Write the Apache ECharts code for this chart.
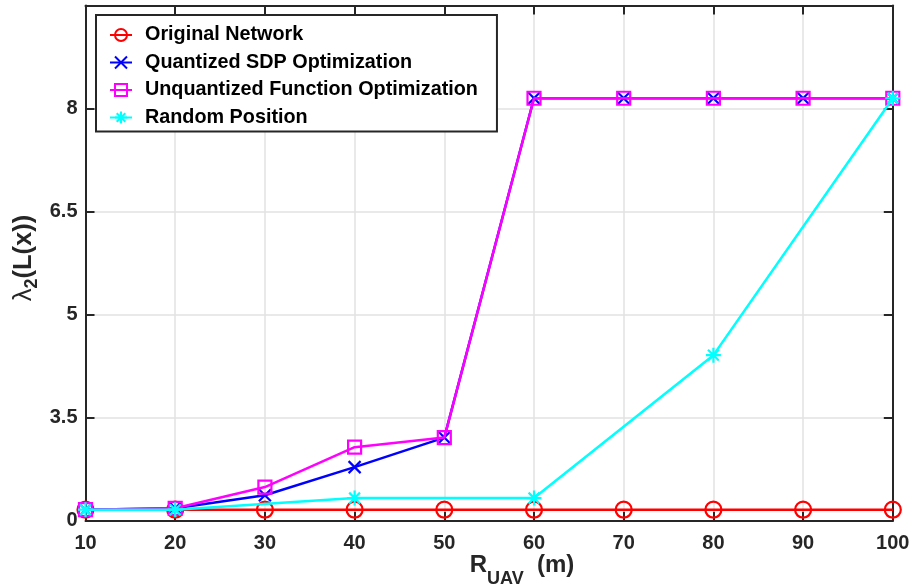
<!DOCTYPE html>
<html>
<head>
<meta charset="utf-8">
<script src="https://cdn.jsdelivr.net/npm/echarts@6/dist/echarts.min.js"></script>
<style>
  html, body { margin: 0; padding: 0; background: #ffffff; }
  #chart { width: 913px; height: 588px; }
</style>
</head>
<body>
<div id="chart"></div>
<script>
// UAV communication radius (m)
const xValues = [10, 20, 30, 40, 50, 60, 70, 80, 90, 100];

// Algebraic connectivity per strategy (axis units)
const originalNetwork = [2.16, 2.16, 2.16, 2.16, 2.16, 2.16, 2.16, 2.16, 2.16, 2.16];
const quantizedSDP = [2.16, 2.18, 2.37, 2.78, 3.21, 8.15, 8.15, 8.15, 8.15, 8.15];
const unquantizedFunction = [2.16, 2.18, 2.49, 3.07, 3.21, 8.15, 8.15, 8.15, 8.15, 8.15];

// Random placement was only evaluated at a subset of radii
const randomX = [10, 20, 40, 60, 80, 100];
const randomPosition = [2.16, 2.16, 2.33, 2.33, 4.41, 8.15];

// Y tick positions and the labels printed at them
const yTickValues = [2, 3.5, 5, 6.5, 8];
const yTickLabels = ['0', '3.5', '5', '6.5', '8'];

const seriesNames = [
  'Original Network',
  'Quantized SDP Optimization',
  'Unquantized Function Optimization',
  'Random Position'
];

const FONT = 'Liberation Sans, Arial, Helvetica, sans-serif';
const AXIS_COLOR = '#262626';
const GRID_COLOR = '#e2e2e2';

const pairs = (xs, ys) => xs.map((x, i) => [x, ys[i]]);

const crossPath = 'path://M0,0L10,10M10,0L0,10';
const starPath = 'path://M5,0L5,10M0,5L10,5M1.4,1.4L8.6,8.6M8.6,1.4L1.4,8.6';

function lineSeries(name, data, color, symbol, size, z) {
  return {
    type: 'line',
    name: name,
    data: data,
    symbol: symbol,
    symbolSize: size,
    showAllSymbol: true,
    clip: false,
    z: z,
    lineStyle: { color: color, width: 2.5 },
    itemStyle: { color: 'rgba(255,255,255,0)', borderColor: color, borderWidth: 2.2 },
    emphasis: { disabled: true }
  };
}

const baseAxis = {
  axisLine: { show: true, onZero: false, lineStyle: { color: AXIS_COLOR, width: 2 } },
  axisTick: { show: true, inside: true, length: 9, lineStyle: { color: AXIS_COLOR, width: 2 } }
};

const option = {
  animation: false,
  backgroundColor: '#ffffff',
  grid: { left: 85.5, right: 20.2, top: 5.5, bottom: 67.3, containLabel: false },
  xAxis: [
    Object.assign({}, baseAxis, {
      type: 'value', position: 'bottom', min: 10, max: 100, interval: 10,
      axisLabel: { color: AXIS_COLOR, fontSize: 20, fontWeight: 'bold', fontFamily: FONT, margin: 13 },
      splitLine: { show: true, lineStyle: { color: GRID_COLOR, width: 1.5 } }
    }),
    Object.assign({}, baseAxis, {
      type: 'value', position: 'top', min: 10, max: 100, interval: 10,
      axisLabel: { show: false }, splitLine: { show: false }
    })
  ],
  yAxis: [
    Object.assign({}, baseAxis, {
      type: 'value', position: 'left', min: 2, max: 9.5, interval: 1.5,
      axisLabel: {
        color: AXIS_COLOR, fontSize: 20, fontWeight: 'bold', fontFamily: FONT, margin: 8,
        formatter: function (v) {
          const i = yTickValues.findIndex(t => Math.abs(t - v) < 1e-6);
          return i >= 0 ? yTickLabels[i] : '';
        }
      },
      splitLine: { show: true, lineStyle: { color: GRID_COLOR, width: 1.5 } }
    }),
    Object.assign({}, baseAxis, {
      type: 'value', position: 'right', min: 2, max: 9.5, interval: 1.5,
      axisLabel: { show: false }, splitLine: { show: false }
    })
  ],
  legend: {
    orient: 'vertical',
    left: 96,
    top: 15,
    data: seriesNames,
    backgroundColor: '#ffffff',
    borderColor: AXIS_COLOR,
    borderWidth: 2,
    borderRadius: 0,
    padding: [10, 19, 4, 13],
    itemWidth: 22,
    itemHeight: 15,
    itemGap: 7.5,
    selectedMode: false,
    textStyle: { color: '#000000', fontSize: 19.8, fontWeight: 'bold', fontFamily: FONT, padding: [0, 0, 0, 8] }
  },
  graphic: [
    {
      type: 'text',
      x: 522,
      y: 571,
      style: {
        text: '{b|R}{s|UAV}{b|  (m)}',
        align: 'center',
        verticalAlign: 'middle',
        rich: {
          b: { fontSize: 24, fontWeight: 'bold', fontFamily: FONT, fill: AXIS_COLOR, verticalAlign: 'top' },
          s: { fontSize: 18, fontWeight: 'bold', fontFamily: FONT, fill: AXIS_COLOR, verticalAlign: 'top', padding: [17, 0, 0, 0] }
        }
      }
    },
    {
      type: 'text',
      x: 26,
      y: 258,
      rotation: Math.PI / 2,
      style: {
        text: '{l|\u03BB}{s|2}{b|(L(x))}',
        align: 'center',
        verticalAlign: 'middle',
        rich: {
          l: { fontSize: 25.5, fontWeight: 'normal', fontFamily: FONT, fill: AXIS_COLOR, verticalAlign: 'top' },
          s: { fontSize: 18, fontWeight: 'bold', fontFamily: FONT, fill: AXIS_COLOR, verticalAlign: 'top', padding: [13, 0, 0, 0] },
          b: { fontSize: 25.5, fontWeight: 'bold', fontFamily: FONT, fill: AXIS_COLOR, verticalAlign: 'top' }
        }
      }
    }
  ],
  series: [
    lineSeries(seriesNames[0], pairs(xValues, originalNetwork), '#ff0000', 'circle', 16, 2),
    lineSeries(seriesNames[1], pairs(xValues, quantizedSDP), '#0000ff', crossPath, 12, 3),
    lineSeries(seriesNames[2], pairs(xValues, unquantizedFunction), '#ff00ff', 'rect', 13, 4),
    lineSeries(seriesNames[3], pairs(randomX, randomPosition), '#00ffff', starPath, 15, 5)
  ]
};

const chart = echarts.init(document.getElementById('chart'), null, { renderer: 'canvas' });
chart.setOption(option);
</script>
</body>
</html>
